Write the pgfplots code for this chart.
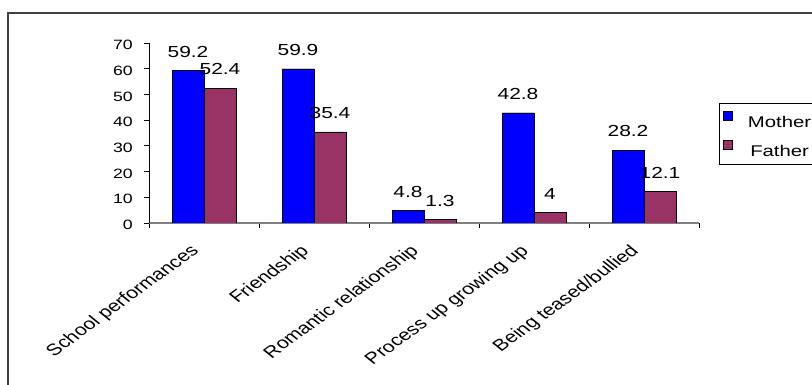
\documentclass[border=0pt]{standalone}
\usepackage{fontspec}
\setmainfont{Liberation Sans}
\newfontfamily\sfont[FakeStretch=1.31]{Liberation Sans}
\usepackage{pgfplots}
\pgfplotsset{compat=1.18}
\definecolor{mblue}{HTML}{0000FF}
\definecolor{fred}{HTML}{993366}
\definecolor{framegray}{HTML}{404040}
\begin{document}
\begin{tikzpicture}
\useasboundingbox (0,0) rectangle (812bp,385bp);
\clip (0,0) rectangle (812bp,385bp);
\draw[framegray, line width=2bp] (8bp,372bp) rectangle (840bp,-30bp);
\begin{axis}[
  at={(149bp,162bp)}, anchor=south west,
  scale only axis, width=550bp, height=180bp,
  xmin=-0.5, xmax=4.5, ymin=0, ymax=70,
  axis x line*=bottom, axis y line*=left,
  x axis line style={draw=gray, line width=1.2bp, -},
  y axis line style={draw=black, line width=0.8bp, -},
  /pgf/number format/assume math mode=true,
  tick align=outside, major tick length=5bp,
  tick style={draw=black, line width=0.8bp},
  ytick={0,10,...,70},
  yticklabel style={font=\sfont\fontsize{13.5bp}{15bp}\selectfont, anchor=east, inner sep=0pt, xshift=-11bp, yshift=-2bp},
  xtick={-0.5,0.5,...,4.5}, xticklabels={},
  extra x ticks={0,1,2,3,4},
  extra x tick labels={School performances, Friendship, Romantic relationship, Process up growing up, Being teased/bullied},
  extra x tick style={major tick length=0pt,
    xticklabel style={font=\fontsize{16.2bp}{19bp}\selectfont, anchor=north east, inner sep=0pt, xshift=-15bp, yshift=-20bp, xscale=1.31, rotate=43.5}},
  legend style={at={(1.036,0.667)}, anchor=north west, draw=black, line width=0.8bp,
    inner xsep=4bp, inner ysep=7.5bp, row sep=13bp,
    font=\sfont\fontsize{15.5bp}{18bp}\selectfont,
    nodes={inner sep=0pt, text height=14bp, text depth=0pt}},
  legend image code/.code={\draw[#1, draw=black, line width=0.8bp] (0bp,0bp) rectangle (9bp,9bp); \path (24bp,0bp);},
]
\addplot[ybar, bar width=32bp, bar shift=-16bp, fill=mblue, draw=black, line width=0.8bp,
  nodes near coords, every node near coord/.append style={font=\sfont\fontsize{16bp}{19bp}\selectfont, inner sep=0pt, xshift=-16bp, yshift=13bp, text=black}]
  coordinates {(0,59.2) (1,59.9) (2,4.8) (3,42.8) (4,28.2)};
\addplot[ybar, bar width=32bp, bar shift=16bp, fill=fred, draw=black, line width=0.8bp,
  nodes near coords, every node near coord/.append style={font=\sfont\fontsize{16bp}{19bp}\selectfont, inner sep=0pt, xshift=16bp, yshift=13bp, text=black}]
  coordinates {(0,52.4) (1,35.4) (2,1.3) (3,4) (4,12.1)};
\addplot[ybar, bar width=32bp, bar shift=-16bp, fill=mblue, draw=black, line width=0.8bp, forget plot]
  coordinates {(0,59.2) (1,59.9) (2,4.8) (3,42.8) (4,28.2)};
\legend{Mother, Father}
\end{axis}
\end{tikzpicture}
\end{document}
